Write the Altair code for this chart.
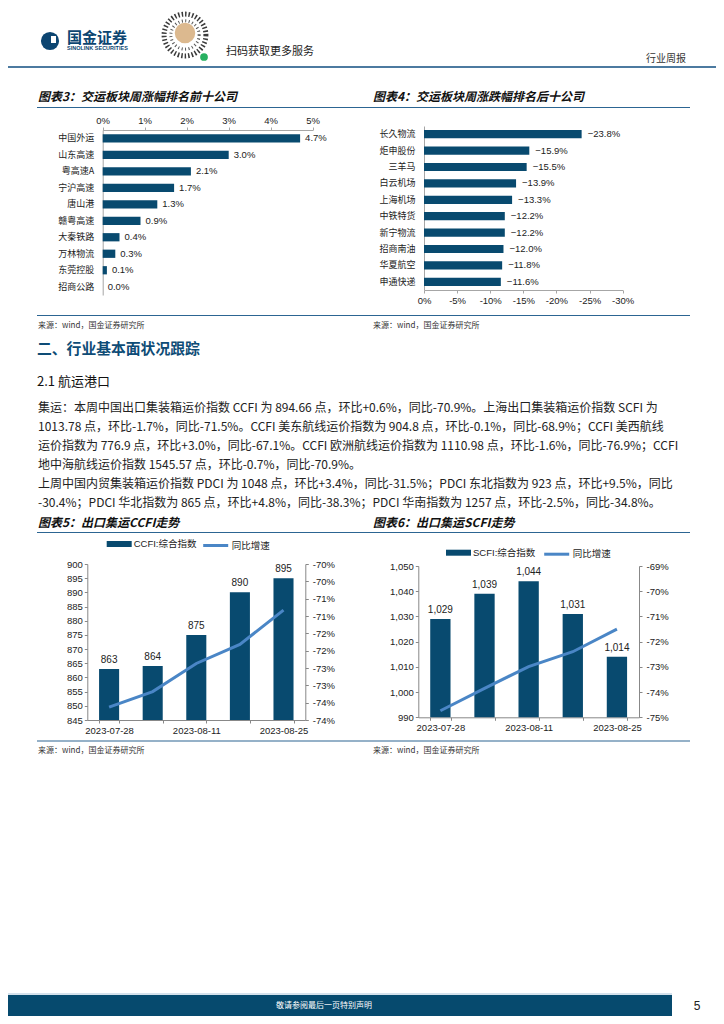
import json
import altair as alt
import pandas as pd

FONT = "Liberation Sans, Arial, Noto Sans CJK SC, sans-serif"
CJK = "Noto Sans CJK SC, Liberation Sans, sans-serif"
NAVY = "#084a6f"
LINE_BLUE = "#4a86c6"
RULE = "#2c6592"
AX = "#a6a6a6"
AX2 = "#888888"
TXT = "#222222"

# ---------------- data ----------------
top10_names = ["中国外运", "山东高速", "粤高速A", "宁沪高速", "唐山港",
               "赣粤高速", "大秦铁路", "万林物流", "东莞控股", "招商公路"]
top10_values = [4.7, 3.0, 2.1, 1.7, 1.3, 0.9, 0.4, 0.3, 0.1, 0.0]
top10_ticks = [0, 1, 2, 3, 4, 5]

bottom10_names = ["长久物流", "炬申股份", "三羊马", "白云机场", "上海机场",
                  "中铁特货", "新宁物流", "招商南油", "华夏航空", "申通快递"]
bottom10_values = [-23.8, -15.9, -15.5, -13.9, -13.3, -12.2, -12.2, -12.0, -11.8, -11.6]
bottom10_ticks = [0, -5, -10, -15, -20, -25, -30]

dates = ["2023-07-28", "2023-08-04", "2023-08-11", "2023-08-18", "2023-08-25"]
shown_dates = ["2023-07-28", "2023-08-11", "2023-08-25"]

ccfi_index = [863, 864, 875, 890, 895]
ccfi_yoy = [-73.63, -73.18, -72.37, -71.82, -70.83]
ccfi_left_ticks = [845, 850, 855, 860, 865, 870, 875, 880, 885, 890, 895, 900]
ccfi_right_ticks = [-74.0, -73.5, -73.0, -72.5, -72.0, -71.5, -71.0, -70.5, -70.0, -69.5]

scfi_index = [1029, 1039, 1044, 1031, 1014]
scfi_yoy = [-74.74, -73.85, -72.99, -72.40, -71.50]
scfi_left_ticks = [990, 1000, 1010, 1020, 1030, 1040, 1050]
scfi_right_ticks = [-75, -74, -73, -72, -71, -70, -69]

paragraph_lines = [
    "集运：本周中国出口集装箱运价指数 CCFI 为 894.66 点，环比+0.6%，同比-70.9%。上海出口集装箱运价指数 SCFI 为",
    "1013.78 点，环比-1.7%，同比-71.5%。CCFI 美东航线运价指数为 904.8 点，环比-0.1%，同比-68.9%；CCFI 美西航线",
    "运价指数为 776.9 点，环比+3.0%，同比-67.1%。CCFI 欧洲航线运价指数为 1110.98 点，环比-1.6%，同比-76.9%；CCFI",
    "地中海航线运价指数 1545.57 点，环比-0.7%，同比-70.9%。",
    "上周中国内贸集装箱运价指数 PDCI 为 1048 点，环比+3.4%，同比-31.5%；PDCI 东北指数为 923 点，环比+9.5%，同比",
    "-30.4%；PDCI 华北指数为 865 点，环比+4.8%，同比-38.3%；PDCI 华南指数为 1257 点，环比-2.5%，同比-34.8%。",
]

DUMMY = pd.DataFrame({"d": [0]})
M = 8            # page margin: chart coordinate = page coordinate - 8
W, H = 708, 1008


# ---------------- decoration helpers (page coordinates) ----------------
def T(x, y, s, size=12, color=TXT, weight="normal", style="normal", font=CJK, align="left"):
    return alt.Chart(DUMMY).mark_text(
        align=align, baseline="middle", fontSize=size, color=color,
        fontWeight=weight, fontStyle=style, font=font
    ).encode(x=alt.value(x - M), y=alt.value(y - M), text=alt.value(s))


def HR(x0, x1, y, color=RULE, width=1.0):
    return alt.Chart(DUMMY).mark_rule(color=color, strokeWidth=width).encode(
        x=alt.value(x0 - M), x2=alt.value(x1 - M), y=alt.value(y - M))


def RECT(x0, x1, y0, y1, color):
    return alt.Chart(DUMMY).mark_rect(color=color).encode(
        x=alt.value(x0 - M), x2=alt.value(x1 - M), y=alt.value(y0 - M), y2=alt.value(y1 - M))


def DOT(x, y, size, color, filled=True, dash=None, sw=1.0):
    kw = dict(shape="circle", size=size, color=color, filled=filled, opacity=1, strokeWidth=sw)
    if dash:
        kw["strokeDash"] = dash
    return alt.Chart(DUMMY).mark_point(**kw).encode(x=alt.value(x - M), y=alt.value(y - M))


decor = [
    # header
    DOT(50, 41, 330, "#0c4571"),
    RECT(51, 56, 36, 43, "#ffffff"),
    T(67, 38, "国金证券", size=15, color="#0c4571", weight="bold"),
    T(67, 48, "SINOLINK SECURITIES", size=5.5, color="#0c4571", weight="bold", font=FONT),
    DOT(185, 35, 1750, "#3a3a3a", filled=False, dash=[1.5, 2], sw=5),
    DOT(185, 35, 800, "#555555", filled=False, dash=[1, 2.5], sw=3),
    DOT(185, 33, 420, "#dcb98f"),
    DOT(204, 57, 60, "#27b060"),
    T(226, 52, "扫码获取更多服务", size=11),
    T(646, 59, "行业周报", size=10, color="#333333"),
    HR(8, 716, 67, color="#4c7aa0", width=2),
    # titles 3/4
    T(38, 97, "图表3：交运板块周涨幅排名前十公司", size=12, weight="bold", style="italic", color="#111111"),
    T(373, 97, "图表4：交运板块周涨跌幅排名后十公司", size=12, weight="bold", style="italic", color="#111111"),
    HR(37, 690, 107.5),
    HR(37, 690, 315.5, width=1.2),
    T(38, 326, "来源：wind，国金证券研究所", size=8, color="#333333"),
    T(373, 326, "来源：wind，国金证券研究所", size=8, color="#333333"),
    # section text
    T(37, 350, "二、行业基本面状况跟踪", size=14.8, weight="bold", color="#0e4c76"),
    T(37, 382, "2.1 航运港口", size=13, color="#111111"),
]
for i, line in enumerate(paragraph_lines):
    decor.append(T(38, 408 + 19 * i, line, size=12, color=TXT))
decor += [
    T(38, 522.5, "图表5：出口集运CCFI走势", size=12, weight="bold", style="italic", color="#111111"),
    T(373, 522.5, "图表6：出口集运SCFI走势", size=12, weight="bold", style="italic", color="#111111"),
    HR(37, 690, 532.5),
    HR(37, 690, 741, width=1.2),
    T(38, 751, "来源：wind，国金证券研究所", size=8, color="#333333"),
    T(373, 751, "来源：wind，国金证券研究所", size=8, color="#333333"),
    # footer
    HR(8, 672, 994, color="#a9c3d8", width=1),
    RECT(8, 672, 995, 1016, "#064a6e"),
    T(324, 1006, "敬请参阅最后一页特别声明", size=8, color="#ffffff", align="center"),
    T(697, 1006, "5", size=12, color=TXT, font=FONT, align="center"),
]


# ---------------- horizontal bar charts ----------------
def hbar(names, values, ticks, x_dom, x_rng, y_rng, x_orient, x_offset, y_offset, label_dx):
    df = pd.DataFrame({"name": names, "value": values})
    y = alt.Y("name:N", sort=names,
              scale=alt.Scale(range=y_rng, paddingInner=0.5, paddingOuter=0.25),
              axis=alt.Axis(orient="left", offset=y_offset, title=None, ticks=False, labelPadding=9,
                            labelFontSize=9, labelFont=CJK, labelColor=TXT, domainColor=AX))
    x = alt.X("value:Q", scale=alt.Scale(domain=x_dom, range=x_rng, nice=False),
              axis=alt.Axis(orient=x_orient, offset=x_offset, values=ticks, labelExpr="datum.value + '%'",
                            title=None, grid=False, tickSize=3, tickColor=AX, domainColor=AX,
                            labelFontSize=9.5, labelFont=FONT, labelColor=TXT, labelPadding=2,
                            labelFlush=False))
    bars = alt.Chart(df).mark_bar(color=NAVY).encode(x=x, y=y)
    labels = alt.Chart(df).transform_calculate(
        label="format(datum.value, '.1f') + '%'"
    ).mark_text(align="left", baseline="middle", dx=label_dx, fontSize=9.5, font=FONT, color=TXT).encode(
        x=x, y=y, text="label:N")
    return alt.layer(bars, labels)


# page: chart3 plot x 102.7-312.7, y 130-295 ; chart4 plot x 424-622.7, y 126-290
chart3 = hbar(top10_names, top10_values, top10_ticks, [0, 5], [102.7 - M, 312.7 - M],
              [130 - M, 295 - M], "top", -(130 - M), -(102.7 - M), 5)
chart4 = hbar(bottom10_names, bottom10_values, bottom10_ticks, [0, -30], [424 - M, 622.7 - M],
              [126 - M, 290 - M], "bottom", (290 - M) - H, -(424 - M), 6)

# ---------------- combo charts ----------------
RECT_PATH = "M-1,-0.24H1V0.24H-1Z"
date_expr = "indexof(" + json.dumps(shown_dates) + ", datum.value) >= 0 ? datum.value : ''"


def combo(values, yoy, bar_name, left_dom, left_ticks, fmt, right_dom, right_ticks, right_expr,
          px0, px1, py_top, py_bot, leg_y, leg_x1, leg_x2):
    df = pd.DataFrame({"date": dates, "idx": values, "yoy": yoy,
                       "s1": bar_name, "s2": "同比增速"})
    x0, x1, yt, yb = px0 - M, px1 - M, py_top - M, py_bot - M
    x = alt.X("date:O", sort=dates,
              scale=alt.Scale(range=[x0, x1], paddingInner=0.54, paddingOuter=0.27),
              axis=alt.Axis(orient="bottom", offset=yb - H, title=None, labelAngle=0, labelExpr=date_expr,
                            labelOverlap=False, tickBand="extent", tickSize=3, tickColor=AX2,
                            domainColor=AX2, labelFontSize=9.5, labelFont=FONT, labelColor=TXT,
                            labelPadding=2))
    yl = alt.Y("idx:Q", scale=alt.Scale(domain=left_dom, range=[yb, yt], nice=False, zero=False),
               axis=alt.Axis(orient="left", offset=-x0, title=None, values=left_ticks, format=fmt,
                             grid=False, tickSize=3, tickColor=AX2, domainColor=AX2, labelFontSize=9.5,
                             labelFont=FONT, labelColor=TXT, labelPadding=2, labelFlush=False))
    bars = alt.Chart(df).mark_bar().encode(
        x=x, y=yl, y2=alt.datum(left_dom[0]),
        color=alt.Color("s1:N", scale=alt.Scale(range=[NAVY]),
                        legend=alt.Legend(orient="none", legendX=leg_x1 - M, legendY=leg_y - M, title=None,
                                          symbolType=RECT_PATH, symbolSize=625, symbolStrokeWidth=0,
                                          labelFontSize=9.5, labelFont=FONT, labelColor=TXT,
                                          labelOffset=2, padding=0)))
    text = alt.Chart(df).mark_text(baseline="bottom", dy=-4, fontSize=10, font=FONT, color=TXT).encode(
        x=x, y=yl, text=alt.Text("idx:Q", format=fmt))
    line = alt.Chart(df).mark_line(strokeWidth=3).encode(
        x=x,
        y=alt.Y("yoy:Q", scale=alt.Scale(domain=right_dom, range=[yb, yt], nice=False, zero=False),
                axis=alt.Axis(orient="right", offset=x1 - W, title=None, values=right_ticks,
                              labelExpr=right_expr, grid=False, tickSize=3, tickColor=AX2,
                              domainColor=AX2, labelFontSize=9.5, labelFont=FONT, labelColor=TXT,
                              labelPadding=4, labelFlush=False)),
        stroke=alt.Stroke("s2:N", scale=alt.Scale(range=[LINE_BLUE]),
                          legend=alt.Legend(orient="none", legendX=leg_x2 - M, legendY=leg_y - M, title=None,
                                            symbolType="stroke", symbolSize=625, symbolStrokeWidth=3,
                                            labelFontSize=9.5, labelFont=FONT, labelColor=TXT,
                                            labelOffset=2, padding=0)))
    return alt.layer(alt.layer(bars, text), line).resolve_scale(y="independent")


chart5 = combo(ccfi_index, ccfi_yoy, "CCFI:综合指数", [845, 900], ccfi_left_ticks, "d",
               [-74, -69.5], ccfi_right_ticks, "'-' + round(abs(datum.value) + 0.0001) + '%'",
               87.3, 305.3, 564, 720, 544 - 12.5, 106.7, 201.7)
chart6 = combo(scfi_index, scfi_yoy, "SCFI:综合指数", [990, 1050], scfi_left_ticks, ",d",
               [-75, -69], scfi_right_ticks, "datum.value + '%'",
               418.3, 639, 566, 717.3, 552.7 - 12.5, 446, 542.7)

chart = alt.layer(*decor, chart3, chart4, chart5, chart6).resolve_scale(
    x="independent", y="independent", color="independent", stroke="independent"
).properties(
    width=W, height=H, padding=0, autosize=alt.AutoSizeParams(type="none")
).configure_view(stroke=None)

chart.save("out.html", embed_options={"renderer": "svg", "actions": False})
